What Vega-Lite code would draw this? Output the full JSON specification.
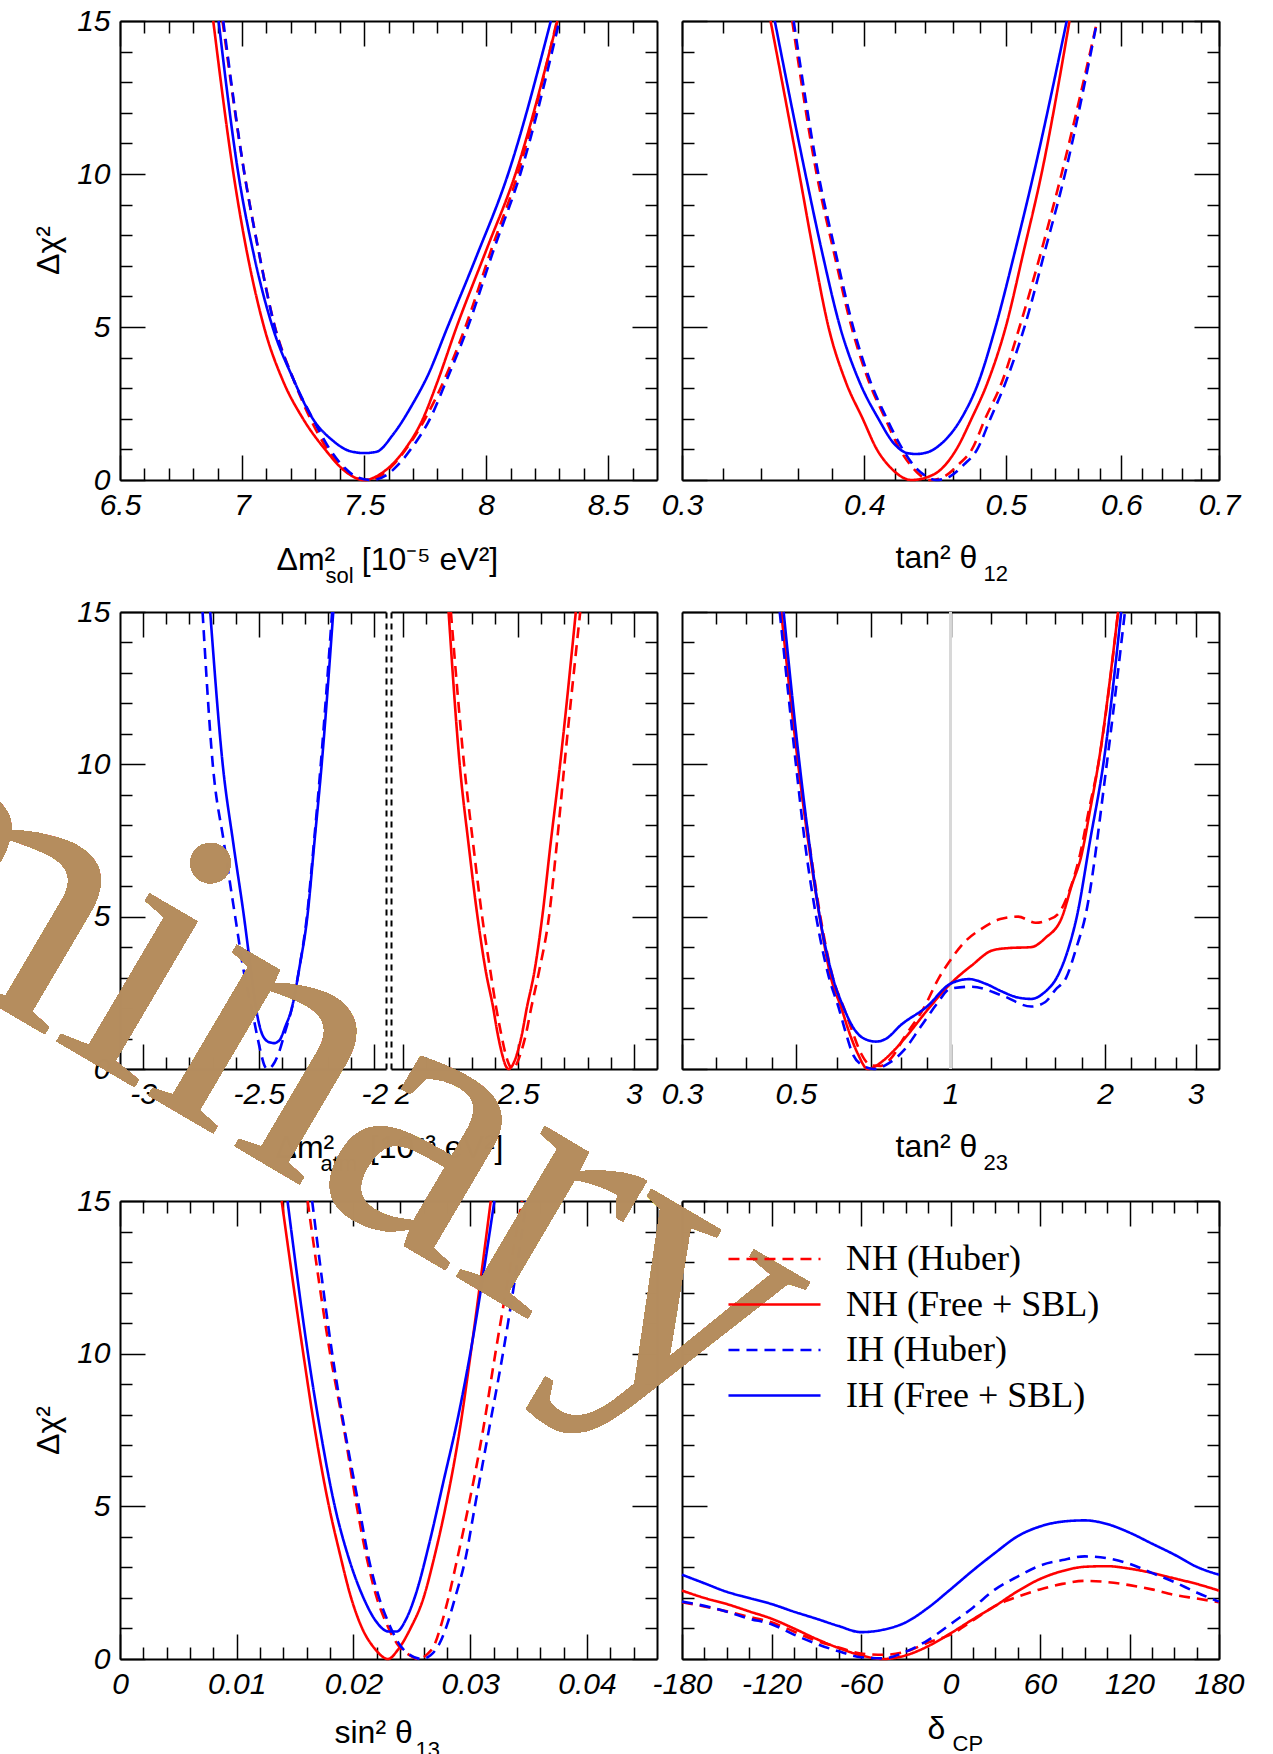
{
"$schema": "https://vega.github.io/schema/vega-lite/v6.json",
"background": "white",
"padding": {"left": -862, "top": 6, "right": 60, "bottom": 10},
"bounds": "flush",
"columns": 2,
"spacing": {"row": 132, "column": 25},
"resolve": {"scale": {"color": "independent", "strokeDash": "independent"}, "legend": {"color": "independent", "strokeDash": "independent"}},
"config": {
  "view": {"stroke": null},
  "axis": {"grid": false, "domainColor": "#000", "domainWidth": 2, "tickColor": "#000", "tickWidth": 1.5, "labelColor": "#000", "labelFont": "Liberation Sans", "labelFontSize": 30, "labelFontStyle": "italic", "labelFlush": false, "labelOverlap": false, "labelBound": false, "titleColor": "#000", "titleFont": "Liberation Sans", "titleFontSize": 32, "titleFontWeight": "normal", "titlePadding": 0},
  "line": {"strokeWidth": 2.6, "interpolate": "monotone"}
},
"datasets": {
"p1": [
{"s":"NH (Huber)","x":6.92,"c":15},{"s":"NH (Huber)","x":7.01,"c":10},{"s":"NH (Huber)","x":7.07,"c":7.4},{"s":"NH (Huber)","x":7.135,"c":5},{"s":"NH (Huber)","x":7.21,"c":3.3},{"s":"NH (Huber)","x":7.28,"c":2},{"s":"NH (Huber)","x":7.35,"c":1},{"s":"NH (Huber)","x":7.41,"c":0.4},{"s":"NH (Huber)","x":7.46,"c":0.1},{"s":"NH (Huber)","x":7.51,"c":0},{"s":"NH (Huber)","x":7.57,"c":0.15},{"s":"NH (Huber)","x":7.62,"c":0.5},{"s":"NH (Huber)","x":7.68,"c":1.1},{"s":"NH (Huber)","x":7.75,"c":2},{"s":"NH (Huber)","x":7.83,"c":3.3},{"s":"NH (Huber)","x":7.915,"c":5},{"s":"NH (Huber)","x":8.02,"c":7.5},{"s":"NH (Huber)","x":8.13,"c":10},{"s":"NH (Huber)","x":8.29,"c":15},
{"s":"NH (Free + SBL)","x":6.882,"c":15},{"s":"NH (Free + SBL)","x":6.965,"c":10},{"s":"NH (Free + SBL)","x":7.09,"c":5},{"s":"NH (Free + SBL)","x":7.17,"c":3.2},{"s":"NH (Free + SBL)","x":7.25,"c":2},{"s":"NH (Free + SBL)","x":7.34,"c":1},{"s":"NH (Free + SBL)","x":7.42,"c":0.3},{"s":"NH (Free + SBL)","x":7.5,"c":0},{"s":"NH (Free + SBL)","x":7.585,"c":0.3},{"s":"NH (Free + SBL)","x":7.667,"c":1},{"s":"NH (Free + SBL)","x":7.741,"c":2},{"s":"NH (Free + SBL)","x":7.8,"c":3.2},{"s":"NH (Free + SBL)","x":7.879,"c":5},{"s":"NH (Free + SBL)","x":8.0,"c":7.5},{"s":"NH (Free + SBL)","x":8.12,"c":10},{"s":"NH (Free + SBL)","x":8.292,"c":15},
{"s":"IH (Huber)","x":6.923,"c":15},{"s":"IH (Huber)","x":7.01,"c":10},{"s":"IH (Huber)","x":7.07,"c":7.4},{"s":"IH (Huber)","x":7.134,"c":5},{"s":"IH (Huber)","x":7.21,"c":3.3},{"s":"IH (Huber)","x":7.29,"c":2},{"s":"IH (Huber)","x":7.36,"c":1},{"s":"IH (Huber)","x":7.42,"c":0.4},{"s":"IH (Huber)","x":7.47,"c":0.1},{"s":"IH (Huber)","x":7.53,"c":0},{"s":"IH (Huber)","x":7.59,"c":0.15},{"s":"IH (Huber)","x":7.64,"c":0.5},{"s":"IH (Huber)","x":7.7,"c":1.1},{"s":"IH (Huber)","x":7.77,"c":2},{"s":"IH (Huber)","x":7.84,"c":3.3},{"s":"IH (Huber)","x":7.925,"c":5},{"s":"IH (Huber)","x":8.03,"c":7.5},{"s":"IH (Huber)","x":8.14,"c":10},{"s":"IH (Huber)","x":8.3,"c":15},
{"s":"IH (Free + SBL)","x":6.904,"c":15},{"s":"IH (Free + SBL)","x":6.985,"c":10},{"s":"IH (Free + SBL)","x":7.05,"c":7.3},{"s":"IH (Free + SBL)","x":7.125,"c":5},{"s":"IH (Free + SBL)","x":7.21,"c":3.3},{"s":"IH (Free + SBL)","x":7.29,"c":2},{"s":"IH (Free + SBL)","x":7.37,"c":1.3},{"s":"IH (Free + SBL)","x":7.44,"c":0.95},{"s":"IH (Free + SBL)","x":7.5,"c":0.88},{"s":"IH (Free + SBL)","x":7.55,"c":0.92},{"s":"IH (Free + SBL)","x":7.62,"c":1.5},{"s":"IH (Free + SBL)","x":7.7,"c":2.5},{"s":"IH (Free + SBL)","x":7.76,"c":3.4},{"s":"IH (Free + SBL)","x":7.842,"c":5},{"s":"IH (Free + SBL)","x":7.96,"c":7.3},{"s":"IH (Free + SBL)","x":8.09,"c":10},{"s":"IH (Free + SBL)","x":8.265,"c":15}
],
"p2": [
{"s":"NH (Huber)","x":0.357,"c":15},{"s":"NH (Huber)","x":0.371,"c":10},{"s":"NH (Huber)","x":0.381,"c":7.5},{"s":"NH (Huber)","x":0.392,"c":5},{"s":"NH (Huber)","x":0.403,"c":3.2},{"s":"NH (Huber)","x":0.4135,"c":2},{"s":"NH (Huber)","x":0.423,"c":1},{"s":"NH (Huber)","x":0.43,"c":0.5},{"s":"NH (Huber)","x":0.437,"c":0.15},{"s":"NH (Huber)","x":0.444,"c":0},{"s":"NH (Huber)","x":0.454,"c":0.12},{"s":"NH (Huber)","x":0.464,"c":0.5},{"s":"NH (Huber)","x":0.474,"c":1},{"s":"NH (Huber)","x":0.484,"c":2},{"s":"NH (Huber)","x":0.497,"c":3.2},{"s":"NH (Huber)","x":0.511,"c":5},{"s":"NH (Huber)","x":0.529,"c":7.5},{"s":"NH (Huber)","x":0.546,"c":10},{"s":"NH (Huber)","x":0.5776,"c":15},
{"s":"NH (Free + SBL)","x":0.345,"c":15},{"s":"NH (Free + SBL)","x":0.361,"c":10},{"s":"NH (Free + SBL)","x":0.369,"c":7.5},{"s":"NH (Free + SBL)","x":0.378,"c":5},{"s":"NH (Free + SBL)","x":0.3885,"c":3.2},{"s":"NH (Free + SBL)","x":0.399,"c":2},{"s":"NH (Free + SBL)","x":0.408,"c":1},{"s":"NH (Free + SBL)","x":0.417,"c":0.4},{"s":"NH (Free + SBL)","x":0.431,"c":0},{"s":"NH (Free + SBL)","x":0.447,"c":0.2},{"s":"NH (Free + SBL)","x":0.4625,"c":1},{"s":"NH (Free + SBL)","x":0.4737,"c":2},{"s":"NH (Free + SBL)","x":0.486,"c":3.2},{"s":"NH (Free + SBL)","x":0.5,"c":5},{"s":"NH (Free + SBL)","x":0.5145,"c":7.5},{"s":"NH (Free + SBL)","x":0.529,"c":10},{"s":"NH (Free + SBL)","x":0.5529,"c":15},
{"s":"IH (Huber)","x":0.3578,"c":15},{"s":"IH (Huber)","x":0.372,"c":10},{"s":"IH (Huber)","x":0.382,"c":7.5},{"s":"IH (Huber)","x":0.393,"c":5},{"s":"IH (Huber)","x":0.404,"c":3.2},{"s":"IH (Huber)","x":0.4145,"c":2},{"s":"IH (Huber)","x":0.425,"c":1},{"s":"IH (Huber)","x":0.432,"c":0.5},{"s":"IH (Huber)","x":0.44,"c":0.15},{"s":"IH (Huber)","x":0.448,"c":0},{"s":"IH (Huber)","x":0.458,"c":0.12},{"s":"IH (Huber)","x":0.468,"c":0.5},{"s":"IH (Huber)","x":0.478,"c":1},{"s":"IH (Huber)","x":0.488,"c":2},{"s":"IH (Huber)","x":0.5,"c":3.2},{"s":"IH (Huber)","x":0.515,"c":5},{"s":"IH (Huber)","x":0.532,"c":7.5},{"s":"IH (Huber)","x":0.549,"c":10},{"s":"IH (Huber)","x":0.5776,"c":15},
{"s":"IH (Free + SBL)","x":0.3473,"c":15},{"s":"IH (Free + SBL)","x":0.3645,"c":10},{"s":"IH (Free + SBL)","x":0.374,"c":7.5},{"s":"IH (Free + SBL)","x":0.385,"c":5},{"s":"IH (Free + SBL)","x":0.397,"c":3.2},{"s":"IH (Free + SBL)","x":0.409,"c":2},{"s":"IH (Free + SBL)","x":0.419,"c":1.2},{"s":"IH (Free + SBL)","x":0.428,"c":0.88},{"s":"IH (Free + SBL)","x":0.434,"c":0.85},{"s":"IH (Free + SBL)","x":0.44,"c":0.88},{"s":"IH (Free + SBL)","x":0.452,"c":1.2},{"s":"IH (Free + SBL)","x":0.466,"c":2},{"s":"IH (Free + SBL)","x":0.479,"c":3.2},{"s":"IH (Free + SBL)","x":0.492,"c":5},{"s":"IH (Free + SBL)","x":0.5075,"c":7.5},{"s":"IH (Free + SBL)","x":0.5225,"c":10},{"s":"IH (Free + SBL)","x":0.5505,"c":15}
],
"p3l": [
{"s":"IH (Huber)","x":-2.743,"c":15},{"s":"IH (Huber)","x":-2.699,"c":10},{"s":"IH (Huber)","x":-2.65,"c":7.4},{"s":"IH (Huber)","x":-2.602,"c":5},{"s":"IH (Huber)","x":-2.56,"c":3},{"s":"IH (Huber)","x":-2.531,"c":2},{"s":"IH (Huber)","x":-2.51,"c":1.2},{"s":"IH (Huber)","x":-2.49,"c":0.5},{"s":"IH (Huber)","x":-2.476,"c":0.12},{"s":"IH (Huber)","x":-2.463,"c":0},{"s":"IH (Huber)","x":-2.44,"c":0.12},{"s":"IH (Huber)","x":-2.415,"c":0.5},{"s":"IH (Huber)","x":-2.385,"c":1.25},{"s":"IH (Huber)","x":-2.357,"c":2},{"s":"IH (Huber)","x":-2.325,"c":3.3},{"s":"IH (Huber)","x":-2.292,"c":5},{"s":"IH (Huber)","x":-2.262,"c":7.4},{"s":"IH (Huber)","x":-2.232,"c":10},{"s":"IH (Huber)","x":-2.183,"c":15},
{"s":"IH (Free + SBL)","x":-2.71,"c":15},{"s":"IH (Free + SBL)","x":-2.656,"c":10},{"s":"IH (Free + SBL)","x":-2.61,"c":7.4},{"s":"IH (Free + SBL)","x":-2.564,"c":5},{"s":"IH (Free + SBL)","x":-2.53,"c":3},{"s":"IH (Free + SBL)","x":-2.512,"c":2},{"s":"IH (Free + SBL)","x":-2.483,"c":1.1},{"s":"IH (Free + SBL)","x":-2.455,"c":0.88},{"s":"IH (Free + SBL)","x":-2.434,"c":0.85},{"s":"IH (Free + SBL)","x":-2.41,"c":0.95},{"s":"IH (Free + SBL)","x":-2.385,"c":1.4},{"s":"IH (Free + SBL)","x":-2.357,"c":2},{"s":"IH (Free + SBL)","x":-2.325,"c":3.3},{"s":"IH (Free + SBL)","x":-2.29,"c":5},{"s":"IH (Free + SBL)","x":-2.26,"c":7.4},{"s":"IH (Free + SBL)","x":-2.228,"c":10},{"s":"IH (Free + SBL)","x":-2.178,"c":15}
],
"p3r": [
{"s":"NH (Huber)","x":2.209,"c":15},{"s":"NH (Huber)","x":2.266,"c":10},{"s":"NH (Huber)","x":2.305,"c":7.4},{"s":"NH (Huber)","x":2.344,"c":5},{"s":"NH (Huber)","x":2.38,"c":3.2},{"s":"NH (Huber)","x":2.405,"c":2},{"s":"NH (Huber)","x":2.425,"c":1.2},{"s":"NH (Huber)","x":2.445,"c":0.5},{"s":"NH (Huber)","x":2.462,"c":0.12},{"s":"NH (Huber)","x":2.476,"c":0},{"s":"NH (Huber)","x":2.49,"c":0.12},{"s":"NH (Huber)","x":2.51,"c":0.5},{"s":"NH (Huber)","x":2.532,"c":1.1},{"s":"NH (Huber)","x":2.556,"c":2},{"s":"NH (Huber)","x":2.59,"c":3.2},{"s":"NH (Huber)","x":2.633,"c":5},{"s":"NH (Huber)","x":2.667,"c":7.4},{"s":"NH (Huber)","x":2.7,"c":10},{"s":"NH (Huber)","x":2.768,"c":15},
{"s":"NH (Free + SBL)","x":2.199,"c":15},{"s":"NH (Free + SBL)","x":2.247,"c":10},{"s":"NH (Free + SBL)","x":2.285,"c":7.4},{"s":"NH (Free + SBL)","x":2.324,"c":5},{"s":"NH (Free + SBL)","x":2.36,"c":3.2},{"s":"NH (Free + SBL)","x":2.392,"c":2},{"s":"NH (Free + SBL)","x":2.41,"c":1.2},{"s":"NH (Free + SBL)","x":2.43,"c":0.5},{"s":"NH (Free + SBL)","x":2.445,"c":0.12},{"s":"NH (Free + SBL)","x":2.459,"c":0},{"s":"NH (Free + SBL)","x":2.475,"c":0.12},{"s":"NH (Free + SBL)","x":2.495,"c":0.5},{"s":"NH (Free + SBL)","x":2.515,"c":1.1},{"s":"NH (Free + SBL)","x":2.537,"c":2},{"s":"NH (Free + SBL)","x":2.57,"c":3.2},{"s":"NH (Free + SBL)","x":2.604,"c":5},{"s":"NH (Free + SBL)","x":2.64,"c":7.4},{"s":"NH (Free + SBL)","x":2.681,"c":10},{"s":"NH (Free + SBL)","x":2.749,"c":15}
],
"p4": [
{"s":"NH (Huber)","x":0.468,"c":15},{"s":"NH (Huber)","x":0.505,"c":10},{"s":"NH (Huber)","x":0.53,"c":7.5},{"s":"NH (Huber)","x":0.558,"c":5},{"s":"NH (Huber)","x":0.59,"c":3},{"s":"NH (Huber)","x":0.62,"c":2},{"s":"NH (Huber)","x":0.645,"c":1.2},{"s":"NH (Huber)","x":0.67,"c":0.5},{"s":"NH (Huber)","x":0.7,"c":0.12},{"s":"NH (Huber)","x":0.73,"c":0.1},{"s":"NH (Huber)","x":0.77,"c":0.4},{"s":"NH (Huber)","x":0.81,"c":1.0},{"s":"NH (Huber)","x":0.887,"c":2},{"s":"NH (Huber)","x":0.95,"c":3.0},{"s":"NH (Huber)","x":1.0,"c":3.58},{"s":"NH (Huber)","x":1.07,"c":4.2},{"s":"NH (Huber)","x":1.149,"c":4.6},{"s":"NH (Huber)","x":1.25,"c":4.92},{"s":"NH (Huber)","x":1.354,"c":5.0},{"s":"NH (Huber)","x":1.465,"c":4.8},{"s":"NH (Huber)","x":1.55,"c":4.9},{"s":"NH (Huber)","x":1.622,"c":5.1},{"s":"NH (Huber)","x":1.7,"c":5.8},{"s":"NH (Huber)","x":1.785,"c":7},{"s":"NH (Huber)","x":1.86,"c":8.5},{"s":"NH (Huber)","x":1.94,"c":10},{"s":"NH (Huber)","x":2.12,"c":15},
{"s":"NH (Free + SBL)","x":0.468,"c":15},{"s":"NH (Free + SBL)","x":0.505,"c":10},{"s":"NH (Free + SBL)","x":0.528,"c":7.5},{"s":"NH (Free + SBL)","x":0.556,"c":5},{"s":"NH (Free + SBL)","x":0.585,"c":3},{"s":"NH (Free + SBL)","x":0.613,"c":2},{"s":"NH (Free + SBL)","x":0.635,"c":1.2},{"s":"NH (Free + SBL)","x":0.66,"c":0.5},{"s":"NH (Free + SBL)","x":0.69,"c":0},{"s":"NH (Free + SBL)","x":0.73,"c":0.2},{"s":"NH (Free + SBL)","x":0.77,"c":0.55},{"s":"NH (Free + SBL)","x":0.814,"c":1},{"s":"NH (Free + SBL)","x":0.908,"c":2},{"s":"NH (Free + SBL)","x":1.0,"c":2.8},{"s":"NH (Free + SBL)","x":1.1,"c":3.4},{"s":"NH (Free + SBL)","x":1.21,"c":3.9},{"s":"NH (Free + SBL)","x":1.3,"c":3.97},{"s":"NH (Free + SBL)","x":1.436,"c":4.0},{"s":"NH (Free + SBL)","x":1.53,"c":4.3},{"s":"NH (Free + SBL)","x":1.65,"c":5},{"s":"NH (Free + SBL)","x":1.72,"c":6},{"s":"NH (Free + SBL)","x":1.798,"c":7},{"s":"NH (Free + SBL)","x":1.87,"c":8.5},{"s":"NH (Free + SBL)","x":1.94,"c":10},{"s":"NH (Free + SBL)","x":2.12,"c":15},
{"s":"IH (Huber)","x":0.465,"c":15},{"s":"IH (Huber)","x":0.5,"c":10},{"s":"IH (Huber)","x":0.52,"c":7.5},{"s":"IH (Huber)","x":0.5475,"c":5},{"s":"IH (Huber)","x":0.58,"c":3},{"s":"IH (Huber)","x":0.606,"c":2},{"s":"IH (Huber)","x":0.625,"c":1.2},{"s":"IH (Huber)","x":0.6447,"c":0.5},{"s":"IH (Huber)","x":0.67,"c":0.15},{"s":"IH (Huber)","x":0.71,"c":0},{"s":"IH (Huber)","x":0.76,"c":0.2},{"s":"IH (Huber)","x":0.81,"c":0.6},{"s":"IH (Huber)","x":0.876,"c":1.4},{"s":"IH (Huber)","x":0.942,"c":2.15},{"s":"IH (Huber)","x":1.0,"c":2.64},{"s":"IH (Huber)","x":1.1,"c":2.7},{"s":"IH (Huber)","x":1.257,"c":2.42},{"s":"IH (Huber)","x":1.436,"c":2.05},{"s":"IH (Huber)","x":1.53,"c":2.2},{"s":"IH (Huber)","x":1.6,"c":2.6},{"s":"IH (Huber)","x":1.68,"c":3.0},{"s":"IH (Huber)","x":1.76,"c":4},{"s":"IH (Huber)","x":1.83,"c":5},{"s":"IH (Huber)","x":2.015,"c":10},{"s":"IH (Huber)","x":2.186,"c":15},
{"s":"IH (Free + SBL)","x":0.4732,"c":15},{"s":"IH (Free + SBL)","x":0.5083,"c":10},{"s":"IH (Free + SBL)","x":0.53,"c":7.5},{"s":"IH (Free + SBL)","x":0.5564,"c":5},{"s":"IH (Free + SBL)","x":0.59,"c":3},{"s":"IH (Free + SBL)","x":0.6198,"c":2},{"s":"IH (Free + SBL)","x":0.65,"c":1.3},{"s":"IH (Free + SBL)","x":0.6782,"c":1.0},{"s":"IH (Free + SBL)","x":0.7165,"c":0.9},{"s":"IH (Free + SBL)","x":0.75,"c":1.0},{"s":"IH (Free + SBL)","x":0.8,"c":1.44},{"s":"IH (Free + SBL)","x":0.9,"c":2.05},{"s":"IH (Free + SBL)","x":1.0,"c":2.8},{"s":"IH (Free + SBL)","x":1.087,"c":2.95},{"s":"IH (Free + SBL)","x":1.17,"c":2.8},{"s":"IH (Free + SBL)","x":1.257,"c":2.55},{"s":"IH (Free + SBL)","x":1.35,"c":2.35},{"s":"IH (Free + SBL)","x":1.436,"c":2.3},{"s":"IH (Free + SBL)","x":1.52,"c":2.5},{"s":"IH (Free + SBL)","x":1.622,"c":3.1},{"s":"IH (Free + SBL)","x":1.7,"c":4.0},{"s":"IH (Free + SBL)","x":1.762,"c":5},{"s":"IH (Free + SBL)","x":1.87,"c":7.5},{"s":"IH (Free + SBL)","x":1.984,"c":10},{"s":"IH (Free + SBL)","x":2.15,"c":15}
],
"p5": [
{"s":"NH (Huber)","x":0.01607,"c":15},{"s":"NH (Huber)","x":0.018,"c":10},{"s":"NH (Huber)","x":0.0192,"c":7.5},{"s":"NH (Huber)","x":0.02028,"c":5},{"s":"NH (Huber)","x":0.0212,"c":3.2},{"s":"NH (Huber)","x":0.022,"c":2},{"s":"NH (Huber)","x":0.0229,"c":1.1},{"s":"NH (Huber)","x":0.02373,"c":0.5},{"s":"NH (Huber)","x":0.0247,"c":0.15},{"s":"NH (Huber)","x":0.0256,"c":0},{"s":"NH (Huber)","x":0.0263,"c":0.15},{"s":"NH (Huber)","x":0.02698,"c":0.5},{"s":"NH (Huber)","x":0.0275,"c":1.1},{"s":"NH (Huber)","x":0.02813,"c":2},{"s":"NH (Huber)","x":0.0289,"c":3.3},{"s":"NH (Huber)","x":0.02985,"c":5},{"s":"NH (Huber)","x":0.0311,"c":7.5},{"s":"NH (Huber)","x":0.03215,"c":10},{"s":"NH (Huber)","x":0.03444,"c":15},
{"s":"NH (Free + SBL)","x":0.01385,"c":15},{"s":"NH (Free + SBL)","x":0.0157,"c":10},{"s":"NH (Free + SBL)","x":0.0167,"c":7.5},{"s":"NH (Free + SBL)","x":0.0179,"c":5},{"s":"NH (Free + SBL)","x":0.0188,"c":3.5},{"s":"NH (Free + SBL)","x":0.0198,"c":2},{"s":"NH (Free + SBL)","x":0.02075,"c":1},{"s":"NH (Free + SBL)","x":0.0218,"c":0.35},{"s":"NH (Free + SBL)","x":0.02296,"c":0},{"s":"NH (Free + SBL)","x":0.0238,"c":0.3},{"s":"NH (Free + SBL)","x":0.02488,"c":1},{"s":"NH (Free + SBL)","x":0.026,"c":2},{"s":"NH (Free + SBL)","x":0.0269,"c":3.3},{"s":"NH (Free + SBL)","x":0.0279,"c":5},{"s":"NH (Free + SBL)","x":0.0291,"c":7.5},{"s":"NH (Free + SBL)","x":0.03004,"c":10},{"s":"NH (Free + SBL)","x":0.03176,"c":15},
{"s":"IH (Huber)","x":0.01646,"c":15},{"s":"IH (Huber)","x":0.01818,"c":10},{"s":"IH (Huber)","x":0.01925,"c":7.5},{"s":"IH (Huber)","x":0.02047,"c":5},{"s":"IH (Huber)","x":0.0213,"c":3.3},{"s":"IH (Huber)","x":0.0222,"c":2},{"s":"IH (Huber)","x":0.0231,"c":1.1},{"s":"IH (Huber)","x":0.0239,"c":0.5},{"s":"IH (Huber)","x":0.0249,"c":0.12},{"s":"IH (Huber)","x":0.02583,"c":0},{"s":"IH (Huber)","x":0.0266,"c":0.12},{"s":"IH (Huber)","x":0.02736,"c":0.5},{"s":"IH (Huber)","x":0.028,"c":1.1},{"s":"IH (Huber)","x":0.0287,"c":2},{"s":"IH (Huber)","x":0.0296,"c":3.3},{"s":"IH (Huber)","x":0.0304,"c":5},{"s":"IH (Huber)","x":0.0316,"c":7.5},{"s":"IH (Huber)","x":0.0328,"c":10},{"s":"IH (Huber)","x":0.03483,"c":15},
{"s":"IH (Free + SBL)","x":0.01435,"c":15},{"s":"IH (Free + SBL)","x":0.0161,"c":10},{"s":"IH (Free + SBL)","x":0.01715,"c":7.5},{"s":"IH (Free + SBL)","x":0.0184,"c":5},{"s":"IH (Free + SBL)","x":0.0196,"c":3.3},{"s":"IH (Free + SBL)","x":0.02086,"c":2},{"s":"IH (Free + SBL)","x":0.022,"c":1.2},{"s":"IH (Free + SBL)","x":0.023,"c":0.9},{"s":"IH (Free + SBL)","x":0.0237,"c":0.9},{"s":"IH (Free + SBL)","x":0.0245,"c":1.3},{"s":"IH (Free + SBL)","x":0.0254,"c":2.2},{"s":"IH (Free + SBL)","x":0.0265,"c":3.8},{"s":"IH (Free + SBL)","x":0.0277,"c":5.8},{"s":"IH (Free + SBL)","x":0.029,"c":8},{"s":"IH (Free + SBL)","x":0.03,"c":10},{"s":"IH (Free + SBL)","x":0.03207,"c":15}
],
"p6": [
{"s":"NH (Huber)","x":-180,"c":1.86},{"s":"NH (Huber)","x":-165,"c":1.72},{"s":"NH (Huber)","x":-150,"c":1.56},{"s":"NH (Huber)","x":-135,"c":1.38},{"s":"NH (Huber)","x":-120,"c":1.2},{"s":"NH (Huber)","x":-105,"c":0.9},{"s":"NH (Huber)","x":-90,"c":0.6},{"s":"NH (Huber)","x":-75,"c":0.38},{"s":"NH (Huber)","x":-60,"c":0.18},{"s":"NH (Huber)","x":-45,"c":0.14},{"s":"NH (Huber)","x":-30,"c":0.24},{"s":"NH (Huber)","x":-15,"c":0.54},{"s":"NH (Huber)","x":0,"c":0.8},{"s":"NH (Huber)","x":15,"c":1.26},{"s":"NH (Huber)","x":30,"c":1.74},{"s":"NH (Huber)","x":45,"c":2.04},{"s":"NH (Huber)","x":60,"c":2.28},{"s":"NH (Huber)","x":75,"c":2.46},{"s":"NH (Huber)","x":90,"c":2.56},{"s":"NH (Huber)","x":105,"c":2.52},{"s":"NH (Huber)","x":120,"c":2.42},{"s":"NH (Huber)","x":135,"c":2.28},{"s":"NH (Huber)","x":150,"c":2.1},{"s":"NH (Huber)","x":165,"c":1.98},{"s":"NH (Huber)","x":180,"c":1.86},
{"s":"NH (Free + SBL)","x":-180,"c":2.24},{"s":"NH (Free + SBL)","x":-165,"c":2.0},{"s":"NH (Free + SBL)","x":-150,"c":1.8},{"s":"NH (Free + SBL)","x":-135,"c":1.56},{"s":"NH (Free + SBL)","x":-120,"c":1.32},{"s":"NH (Free + SBL)","x":-105,"c":1.0},{"s":"NH (Free + SBL)","x":-90,"c":0.66},{"s":"NH (Free + SBL)","x":-75,"c":0.36},{"s":"NH (Free + SBL)","x":-60,"c":0.12},{"s":"NH (Free + SBL)","x":-45,"c":0.0},{"s":"NH (Free + SBL)","x":-30,"c":0.12},{"s":"NH (Free + SBL)","x":-15,"c":0.42},{"s":"NH (Free + SBL)","x":0,"c":0.84},{"s":"NH (Free + SBL)","x":15,"c":1.3},{"s":"NH (Free + SBL)","x":30,"c":1.74},{"s":"NH (Free + SBL)","x":45,"c":2.22},{"s":"NH (Free + SBL)","x":60,"c":2.62},{"s":"NH (Free + SBL)","x":75,"c":2.88},{"s":"NH (Free + SBL)","x":90,"c":3.02},{"s":"NH (Free + SBL)","x":105,"c":3.04},{"s":"NH (Free + SBL)","x":120,"c":2.96},{"s":"NH (Free + SBL)","x":135,"c":2.82},{"s":"NH (Free + SBL)","x":150,"c":2.64},{"s":"NH (Free + SBL)","x":165,"c":2.46},{"s":"NH (Free + SBL)","x":180,"c":2.24},
{"s":"IH (Huber)","x":-180,"c":1.88},{"s":"IH (Huber)","x":-165,"c":1.74},{"s":"IH (Huber)","x":-150,"c":1.55},{"s":"IH (Huber)","x":-135,"c":1.32},{"s":"IH (Huber)","x":-120,"c":1.14},{"s":"IH (Huber)","x":-105,"c":0.8},{"s":"IH (Huber)","x":-90,"c":0.5},{"s":"IH (Huber)","x":-75,"c":0.25},{"s":"IH (Huber)","x":-60,"c":0.06},{"s":"IH (Huber)","x":-45,"c":0.02},{"s":"IH (Huber)","x":-30,"c":0.24},{"s":"IH (Huber)","x":-15,"c":0.62},{"s":"IH (Huber)","x":0,"c":1.14},{"s":"IH (Huber)","x":15,"c":1.68},{"s":"IH (Huber)","x":30,"c":2.28},{"s":"IH (Huber)","x":45,"c":2.7},{"s":"IH (Huber)","x":60,"c":3.06},{"s":"IH (Huber)","x":75,"c":3.24},{"s":"IH (Huber)","x":90,"c":3.36},{"s":"IH (Huber)","x":105,"c":3.3},{"s":"IH (Huber)","x":120,"c":3.12},{"s":"IH (Huber)","x":135,"c":2.82},{"s":"IH (Huber)","x":150,"c":2.52},{"s":"IH (Huber)","x":165,"c":2.18},{"s":"IH (Huber)","x":180,"c":1.88},
{"s":"IH (Free + SBL)","x":-180,"c":2.76},{"s":"IH (Free + SBL)","x":-165,"c":2.48},{"s":"IH (Free + SBL)","x":-150,"c":2.2},{"s":"IH (Free + SBL)","x":-135,"c":2.0},{"s":"IH (Free + SBL)","x":-120,"c":1.8},{"s":"IH (Free + SBL)","x":-105,"c":1.55},{"s":"IH (Free + SBL)","x":-90,"c":1.32},{"s":"IH (Free + SBL)","x":-75,"c":1.08},{"s":"IH (Free + SBL)","x":-60,"c":0.88},{"s":"IH (Free + SBL)","x":-45,"c":0.96},{"s":"IH (Free + SBL)","x":-30,"c":1.2},{"s":"IH (Free + SBL)","x":-15,"c":1.68},{"s":"IH (Free + SBL)","x":0,"c":2.28},{"s":"IH (Free + SBL)","x":15,"c":2.9},{"s":"IH (Free + SBL)","x":30,"c":3.48},{"s":"IH (Free + SBL)","x":45,"c":4.02},{"s":"IH (Free + SBL)","x":60,"c":4.34},{"s":"IH (Free + SBL)","x":75,"c":4.5},{"s":"IH (Free + SBL)","x":90,"c":4.54},{"s":"IH (Free + SBL)","x":105,"c":4.42},{"s":"IH (Free + SBL)","x":120,"c":4.14},{"s":"IH (Free + SBL)","x":135,"c":3.78},{"s":"IH (Free + SBL)","x":150,"c":3.42},{"s":"IH (Free + SBL)","x":165,"c":3.02},{"s":"IH (Free + SBL)","x":180,"c":2.76}
]
},
"concat": [
{
 "width": 537, "height": 459, "data": {"name": "p1"},
 "resolve": {"axis": {"x": "independent", "y": "independent"}},
 "layer": [
  {"mark": {"type": "line"},
   "encoding": {
    "x": {"field": "x", "type": "quantitative", "scale": {"domain": [6.5, 8.7], "nice": false, "zero": false},
      "axis": {"orient": "bottom", "values": [6.5,7,7.5,8,8.5], "tickSize": -25, "labelPadding": 35, "labelExpr": "'' + datum.value", "title": "Δm²\u00a0\u00a0\u00a0[10⁻⁵ eV²]", "titleX": 156, "titleY": 89, "titleAlign": "left", "titleBaseline": "alphabetic", "titleAngle": 0}},
    "y": {"field": "c", "type": "quantitative", "scale": {"domain": [0, 15], "nice": false, "zero": false},
      "axis": {"orient": "left", "values": [0,5,10,15], "tickSize": -25, "labelPadding": 35, "labelExpr": "'' + datum.value", "title": "Δχ²", "titleX": -62, "titleY": 229, "titleAlign": "center", "titleBaseline": "alphabetic", "titleAngle": -90}},
    "color": {"field": "s", "type": "nominal", "scale": {"domain": ["NH (Huber)","NH (Free + SBL)","IH (Huber)","IH (Free + SBL)"], "range": ["#ff0000","#ff0000","#0000ff","#0000ff"]}, "legend": null},
    "strokeDash": {"field": "s", "type": "nominal", "scale": {"domain": ["NH (Huber)","NH (Free + SBL)","IH (Huber)","IH (Free + SBL)"], "range": [[11,7],[1,0],[11,7],[1,0]]}, "legend": null}
   }},
  {"mark": {"type": "point", "opacity": 0},
   "encoding": {
    "x": {"field": "x", "type": "quantitative", "axis": {"orient": "bottom", "values": [6.6,6.7,6.8,6.9,7.1,7.2,7.3,7.4,7.6,7.7,7.8,7.9,8.1,8.2,8.3,8.4,8.6], "tickSize": -12, "labels": false, "domain": false, "title": "sol", "titleX": 205, "titleY": 102, "titleAlign": "left", "titleBaseline": "alphabetic", "titleAngle": 0, "titleFontSize": 22}},
    "y": {"field": "c", "type": "quantitative", "axis": {"orient": "left", "values": [1,2,3,4,6,7,8,9,11,12,13,14], "tickSize": -12, "labels": false, "domain": false, "title": null}}
   }},
  {"mark": {"type": "point", "opacity": 0},
   "encoding": {
    "x": {"field": "x", "type": "quantitative", "axis": {"orient": "top", "values": [6.5,7,7.5,8,8.5], "tickSize": -25, "labels": false, "title": null}},
    "y": {"field": "c", "type": "quantitative", "axis": {"orient": "right", "values": [0,5,10,15], "tickSize": -25, "labels": false, "title": null}}
   }},
  {"mark": {"type": "point", "opacity": 0},
   "encoding": {
    "x": {"field": "x", "type": "quantitative", "axis": {"orient": "top", "values": [6.6,6.7,6.8,6.9,7.1,7.2,7.3,7.4,7.6,7.7,7.8,7.9,8.1,8.2,8.3,8.4,8.6], "tickSize": -12, "labels": false, "domain": false, "title": null}},
    "y": {"field": "c", "type": "quantitative", "axis": {"orient": "right", "values": [1,2,3,4,6,7,8,9,11,12,13,14], "tickSize": -12, "labels": false, "domain": false, "title": null}}
   }}
 ]
},
{
 "width": 537, "height": 459, "data": {"name": "p2"},
 "resolve": {"axis": {"x": "independent", "y": "independent"}},
 "layer": [
  {"mark": {"type": "line"},
   "encoding": {
    "x": {"field": "x", "type": "quantitative", "scale": {"type": "log", "domain": [0.3, 0.7], "nice": false},
      "axis": {"orient": "bottom", "values": [0.3,0.4,0.5,0.6,0.7], "tickSize": -25, "labelPadding": 35, "labelExpr": "'' + datum.value", "title": "tan²\u00a0θ", "titleX": 213, "titleY": 87, "titleAlign": "left", "titleBaseline": "alphabetic", "titleAngle": 0}},
    "y": {"field": "c", "type": "quantitative", "scale": {"domain": [0, 15], "nice": false, "zero": false},
      "axis": {"orient": "left", "values": [0,5,10,15], "tickSize": -25, "labels": false, "title": null}},
    "color": {"field": "s", "type": "nominal", "scale": {"domain": ["NH (Huber)","NH (Free + SBL)","IH (Huber)","IH (Free + SBL)"], "range": ["#ff0000","#ff0000","#0000ff","#0000ff"]}, "legend": null},
    "strokeDash": {"field": "s", "type": "nominal", "scale": {"domain": ["NH (Huber)","NH (Free + SBL)","IH (Huber)","IH (Free + SBL)"], "range": [[11,7],[1,0],[11,7],[1,0]]}, "legend": null}
   }},
  {"mark": {"type": "point", "opacity": 0},
   "encoding": {
    "x": {"field": "x", "type": "quantitative", "axis": {"orient": "bottom", "values": [0.32,0.34,0.36,0.38,0.42,0.44,0.46,0.48,0.52,0.54,0.56,0.58,0.62,0.64,0.66,0.68], "tickSize": -12, "labels": false, "domain": false, "title": "12", "titleX": 301, "titleY": 100, "titleAlign": "left", "titleBaseline": "alphabetic", "titleAngle": 0, "titleFontSize": 22}},
    "y": {"field": "c", "type": "quantitative", "axis": {"orient": "left", "values": [1,2,3,4,6,7,8,9,11,12,13,14], "tickSize": -12, "labels": false, "domain": false, "title": null}}
   }},
  {"mark": {"type": "point", "opacity": 0},
   "encoding": {
    "x": {"field": "x", "type": "quantitative", "axis": {"orient": "top", "values": [0.3,0.4,0.5,0.6,0.7], "tickSize": -25, "labels": false, "title": null}},
    "y": {"field": "c", "type": "quantitative", "axis": {"orient": "right", "values": [0,5,10,15], "tickSize": -25, "labels": false, "title": null}}
   }},
  {"mark": {"type": "point", "opacity": 0},
   "encoding": {
    "x": {"field": "x", "type": "quantitative", "axis": {"orient": "top", "values": [0.32,0.34,0.36,0.38,0.42,0.44,0.46,0.48,0.52,0.54,0.56,0.58,0.62,0.64,0.66,0.68], "tickSize": -12, "labels": false, "domain": false, "title": null}},
    "y": {"field": "c", "type": "quantitative", "axis": {"orient": "right", "values": [1,2,3,4,6,7,8,9,11,12,13,14], "tickSize": -12, "labels": false, "domain": false, "title": null}}
   }}
 ]
},
{
 "spacing": 5, "bounds": "flush",
 "hconcat": [
  {
   "width": 266, "height": 457, "data": {"name": "p3l"},
   "resolve": {"axis": {"x": "independent", "y": "independent"}},
   "layer": [
    {"mark": {"type": "line"},
     "encoding": {
      "x": {"field": "x", "type": "quantitative", "scale": {"domain": [-3.1, -1.95], "nice": false, "zero": false},
        "axis": {"orient": "bottom", "values": [-3,-2.5,-2], "tickSize": -25, "labelPadding": 35, "labelExpr": "'' + datum.value", "title": "Δm²\u00a0\u00a0\u00a0\u00a0[10⁻³ eV²]", "titleX": 155, "titleY": 88, "titleAlign": "left", "titleBaseline": "alphabetic", "titleAngle": 0}},
      "y": {"field": "c", "type": "quantitative", "scale": {"domain": [0, 15], "nice": false, "zero": false},
        "axis": {"orient": "left", "values": [0,5,10,15], "tickSize": -25, "labelPadding": 35, "labelExpr": "'' + datum.value", "title": null}},
      "color": {"field": "s", "type": "nominal", "scale": {"domain": ["NH (Huber)","NH (Free + SBL)","IH (Huber)","IH (Free + SBL)"], "range": ["#ff0000","#ff0000","#0000ff","#0000ff"]}, "legend": null},
      "strokeDash": {"field": "s", "type": "nominal", "scale": {"domain": ["NH (Huber)","NH (Free + SBL)","IH (Huber)","IH (Free + SBL)"], "range": [[11,7],[1,0],[11,7],[1,0]]}, "legend": null}
     }},
    {"mark": {"type": "point", "opacity": 0},
     "encoding": {
      "x": {"field": "x", "type": "quantitative", "axis": {"orient": "bottom", "values": [-2.9,-2.8,-2.7,-2.6,-2.4,-2.3,-2.2,-2.1], "tickSize": -12, "labels": false, "domain": false, "title": "atm", "titleX": 200, "titleY": 101, "titleAlign": "left", "titleBaseline": "alphabetic", "titleAngle": 0, "titleFontSize": 22}},
      "y": {"field": "c", "type": "quantitative", "axis": {"orient": "left", "values": [1,2,3,4,6,7,8,9,11,12,13,14], "tickSize": -12, "labels": false, "domain": false, "title": null}}
     }},
    {"mark": {"type": "point", "opacity": 0},
     "encoding": {
      "x": {"field": "x", "type": "quantitative", "axis": {"orient": "top", "values": [-3,-2.5,-2], "tickSize": -25, "labels": false, "title": null}},
      "y": {"field": "c", "type": "quantitative", "axis": {"orient": "right", "ticks": false, "labels": false, "domainDash": [6,5], "title": null}}
     }},
    {"mark": {"type": "point", "opacity": 0},
     "encoding": {
      "x": {"field": "x", "type": "quantitative", "axis": {"orient": "top", "values": [-2.9,-2.8,-2.7,-2.6,-2.4,-2.3,-2.2,-2.1], "tickSize": -12, "labels": false, "domain": false, "title": null}},
      "y": {"field": "c", "type": "quantitative", "axis": null}
     }}
   ]
  },
  {
   "width": 266, "height": 457, "data": {"name": "p3r"},
   "resolve": {"axis": {"x": "independent", "y": "independent"}},
   "layer": [
    {"mark": {"type": "line"},
     "encoding": {
      "x": {"field": "x", "type": "quantitative", "scale": {"domain": [1.95, 3.1], "nice": false, "zero": false},
        "axis": {"orient": "bottom", "values": [2,2.5,3], "tickSize": -25, "labelPadding": 35, "labelExpr": "'' + datum.value", "title": null}},
      "y": {"field": "c", "type": "quantitative", "scale": {"domain": [0, 15], "nice": false, "zero": false},
        "axis": {"orient": "left", "ticks": false, "labels": false, "domainDash": [6,5], "title": null}},
      "color": {"field": "s", "type": "nominal", "scale": {"domain": ["NH (Huber)","NH (Free + SBL)","IH (Huber)","IH (Free + SBL)"], "range": ["#ff0000","#ff0000","#0000ff","#0000ff"]}, "legend": null},
      "strokeDash": {"field": "s", "type": "nominal", "scale": {"domain": ["NH (Huber)","NH (Free + SBL)","IH (Huber)","IH (Free + SBL)"], "range": [[11,7],[1,0],[11,7],[1,0]]}, "legend": null}
     }},
    {"mark": {"type": "point", "opacity": 0},
     "encoding": {
      "x": {"field": "x", "type": "quantitative", "axis": {"orient": "bottom", "values": [2.1,2.2,2.3,2.4,2.6,2.7,2.8,2.9], "tickSize": -12, "labels": false, "domain": false, "title": null}},
      "y": {"field": "c", "type": "quantitative", "axis": null}
     }},
    {"mark": {"type": "point", "opacity": 0},
     "encoding": {
      "x": {"field": "x", "type": "quantitative", "axis": {"orient": "top", "values": [2,2.5,3], "tickSize": -25, "labels": false, "title": null}},
      "y": {"field": "c", "type": "quantitative", "axis": {"orient": "right", "values": [0,5,10,15], "tickSize": -25, "labels": false, "title": null}}
     }},
    {"mark": {"type": "point", "opacity": 0},
     "encoding": {
      "x": {"field": "x", "type": "quantitative", "axis": {"orient": "top", "values": [2.1,2.2,2.3,2.4,2.6,2.7,2.8,2.9], "tickSize": -12, "labels": false, "domain": false, "title": null}},
      "y": {"field": "c", "type": "quantitative", "axis": {"orient": "right", "values": [1,2,3,4,6,7,8,9,11,12,13,14], "tickSize": -12, "labels": false, "domain": false, "title": null}}
     }}
   ]
  }
 ]
},
{
 "width": 537, "height": 457, "data": {"name": "p4"},
 "resolve": {"axis": {"x": "independent", "y": "independent"}},
 "layer": [
  {"mark": {"type": "rule", "color": "#d8d8d8", "strokeWidth": 1.5},
   "encoding": {"x": {"datum": 1, "type": "quantitative", "axis": null}}},
  {"mark": {"type": "line"},
   "encoding": {
    "x": {"field": "x", "type": "quantitative", "scale": {"type": "log", "domain": [0.3, 3.3333], "nice": false},
      "axis": {"orient": "bottom", "values": [0.3,0.5,0.7,1,2,3], "tickSize": -25, "labelPadding": 35, "labelExpr": "datum.value == 0.7 ? '' : '' + datum.value", "title": "tan²\u00a0θ", "titleX": 213, "titleY": 87, "titleAlign": "left", "titleBaseline": "alphabetic", "titleAngle": 0}},
    "y": {"field": "c", "type": "quantitative", "scale": {"domain": [0, 15], "nice": false, "zero": false},
      "axis": {"orient": "left", "values": [0,5,10,15], "tickSize": -25, "labels": false, "title": null}},
    "color": {"field": "s", "type": "nominal", "scale": {"domain": ["NH (Huber)","NH (Free + SBL)","IH (Huber)","IH (Free + SBL)"], "range": ["#ff0000","#ff0000","#0000ff","#0000ff"]}, "legend": null},
    "strokeDash": {"field": "s", "type": "nominal", "scale": {"domain": ["NH (Huber)","NH (Free + SBL)","IH (Huber)","IH (Free + SBL)"], "range": [[11,7],[1,0],[11,7],[1,0]]}, "legend": null}
   }},
  {"mark": {"type": "point", "opacity": 0},
   "encoding": {
    "x": {"field": "x", "type": "quantitative", "axis": {"orient": "bottom", "values": [0.35,0.4,0.45,0.6,0.8,0.9,1.2,1.4,1.6,1.8,2.25,2.5,2.75], "tickSize": -12, "labels": false, "domain": false, "title": "23", "titleX": 301, "titleY": 100, "titleAlign": "left", "titleBaseline": "alphabetic", "titleAngle": 0, "titleFontSize": 22}},
    "y": {"field": "c", "type": "quantitative", "axis": {"orient": "left", "values": [1,2,3,4,6,7,8,9,11,12,13,14], "tickSize": -12, "labels": false, "domain": false, "title": null}}
   }},
  {"mark": {"type": "point", "opacity": 0},
   "encoding": {
    "x": {"field": "x", "type": "quantitative", "axis": {"orient": "top", "values": [0.5,0.7,1,2,3], "tickSize": -25, "labels": false, "title": null}},
    "y": {"field": "c", "type": "quantitative", "axis": {"orient": "right", "values": [0,5,10,15], "tickSize": -25, "labels": false, "title": null}}
   }},
  {"mark": {"type": "point", "opacity": 0},
   "encoding": {
    "x": {"field": "x", "type": "quantitative", "axis": {"orient": "top", "values": [0.35,0.4,0.45,0.6,0.8,0.9,1.2,1.4,1.6,1.8,2.25,2.5,2.75], "tickSize": -12, "labels": false, "domain": false, "title": null}},
    "y": {"field": "c", "type": "quantitative", "axis": {"orient": "right", "values": [1,2,3,4,6,7,8,9,11,12,13,14], "tickSize": -12, "labels": false, "domain": false, "title": null}}
   }}
 ]
},
{
 "width": 537, "height": 458, "data": {"name": "p5"},
 "resolve": {"axis": {"x": "independent", "y": "independent"}},
 "layer": [
  {"mark": {"type": "line"},
   "encoding": {
    "x": {"field": "x", "type": "quantitative", "scale": {"domain": [0, 0.046], "nice": false, "zero": false},
      "axis": {"orient": "bottom", "values": [0,0.01,0.02,0.03,0.04], "tickSize": -25, "labelPadding": 35, "labelExpr": "'' + datum.value", "title": "sin²\u00a0θ", "titleX": 214, "titleY": 83, "titleAlign": "left", "titleBaseline": "alphabetic", "titleAngle": 0}},
    "y": {"field": "c", "type": "quantitative", "scale": {"domain": [0, 15], "nice": false, "zero": false},
      "axis": {"orient": "left", "values": [0,5,10,15], "tickSize": -25, "labelPadding": 35, "labelExpr": "'' + datum.value", "title": "Δχ²", "titleX": -62, "titleY": 229, "titleAlign": "center", "titleBaseline": "alphabetic", "titleAngle": -90}},
    "color": {"field": "s", "type": "nominal", "scale": {"domain": ["NH (Huber)","NH (Free + SBL)","IH (Huber)","IH (Free + SBL)"], "range": ["#ff0000","#ff0000","#0000ff","#0000ff"]}, "legend": null},
    "strokeDash": {"field": "s", "type": "nominal", "scale": {"domain": ["NH (Huber)","NH (Free + SBL)","IH (Huber)","IH (Free + SBL)"], "range": [[11,7],[1,0],[11,7],[1,0]]}, "legend": null}
   }},
  {"mark": {"type": "point", "opacity": 0},
   "encoding": {
    "x": {"field": "x", "type": "quantitative", "axis": {"orient": "bottom", "values": [0.002,0.004,0.006,0.008,0.012,0.014,0.016,0.018,0.022,0.024,0.026,0.028,0.032,0.034,0.036,0.038,0.042,0.044], "tickSize": -12, "labels": false, "domain": false, "title": "13", "titleX": 295, "titleY": 97, "titleAlign": "left", "titleBaseline": "alphabetic", "titleAngle": 0, "titleFontSize": 22}},
    "y": {"field": "c", "type": "quantitative", "axis": {"orient": "left", "values": [1,2,3,4,6,7,8,9,11,12,13,14], "tickSize": -12, "labels": false, "domain": false, "title": null}}
   }},
  {"mark": {"type": "point", "opacity": 0},
   "encoding": {
    "x": {"field": "x", "type": "quantitative", "axis": {"orient": "top", "values": [0,0.01,0.02,0.03,0.04], "tickSize": -25, "labels": false, "title": null}},
    "y": {"field": "c", "type": "quantitative", "axis": {"orient": "right", "values": [0,5,10,15], "tickSize": -25, "labels": false, "title": null}}
   }},
  {"mark": {"type": "point", "opacity": 0},
   "encoding": {
    "x": {"field": "x", "type": "quantitative", "axis": {"orient": "top", "values": [0.002,0.004,0.006,0.008,0.012,0.014,0.016,0.018,0.022,0.024,0.026,0.028,0.032,0.034,0.036,0.038,0.042,0.044], "tickSize": -12, "labels": false, "domain": false, "title": null}},
    "y": {"field": "c", "type": "quantitative", "axis": {"orient": "right", "values": [1,2,3,4,6,7,8,9,11,12,13,14], "tickSize": -12, "labels": false, "domain": false, "title": null}}
   }}
 ]
},
{
 "width": 537, "height": 458, "data": {"name": "p6"},
 "resolve": {"axis": {"x": "independent", "y": "independent"}},
 "layer": [
  {"mark": {"type": "line"},
   "encoding": {
    "x": {"field": "x", "type": "quantitative", "scale": {"domain": [-180, 180], "nice": false, "zero": false},
      "axis": {"orient": "bottom", "values": [-180,-120,-60,0,60,120,180], "tickSize": -25, "labelPadding": 35, "labelExpr": "'' + datum.value", "title": "δ", "titleX": 245, "titleY": 79, "titleAlign": "left", "titleBaseline": "alphabetic", "titleAngle": 0}},
    "y": {"field": "c", "type": "quantitative", "scale": {"domain": [0, 15], "nice": false, "zero": false},
      "axis": {"orient": "left", "values": [0,5,10,15], "tickSize": -25, "labels": false, "title": null}},
    "color": {"field": "s", "type": "nominal", "scale": {"domain": ["NH (Huber)","NH (Free + SBL)","IH (Huber)","IH (Free + SBL)"], "range": ["#ff0000","#ff0000","#0000ff","#0000ff"]},
      "legend": {"orient": "none", "legendX": 74.5, "legendY": 40, "title": null, "symbolType": "M-5,0L5,0", "symbolSize": 339, "symbolStrokeWidth": 2.6, "labelFont": "Liberation Serif", "labelFontSize": 36, "labelColor": "#000", "labelOffset": 53.5, "rowPadding": 9.5, "padding": 0, "labelLimit": 500}},
    "strokeDash": {"field": "s", "type": "nominal", "scale": {"domain": ["NH (Huber)","NH (Free + SBL)","IH (Huber)","IH (Free + SBL)"], "range": [[11,7],[1,0],[11,7],[1,0]]},
      "legend": {"orient": "none", "legendX": 74.5, "legendY": 40, "title": null, "symbolType": "M-5,0L5,0", "symbolSize": 339, "symbolStrokeWidth": 2.6, "labelFont": "Liberation Serif", "labelFontSize": 36, "labelColor": "#000", "labelOffset": 53.5, "rowPadding": 9.5, "padding": 0, "labelLimit": 500}}
   }},
  {"mark": {"type": "point", "opacity": 0},
   "encoding": {
    "x": {"field": "x", "type": "quantitative", "axis": {"orient": "bottom", "values": [-165,-150,-135,-105,-90,-75,-45,-30,-15,15,30,45,75,90,105,135,150,165], "tickSize": -12, "labels": false, "domain": false, "title": "CP", "titleX": 270, "titleY": 91, "titleAlign": "left", "titleBaseline": "alphabetic", "titleAngle": 0, "titleFontSize": 22}},
    "y": {"field": "c", "type": "quantitative", "axis": {"orient": "left", "values": [1,2,3,4,6,7,8,9,11,12,13,14], "tickSize": -12, "labels": false, "domain": false, "title": null}}
   }},
  {"mark": {"type": "point", "opacity": 0},
   "encoding": {
    "x": {"field": "x", "type": "quantitative", "axis": {"orient": "top", "values": [-180,-120,-60,0,60,120,180], "tickSize": -25, "labels": false, "title": null}},
    "y": {"field": "c", "type": "quantitative", "axis": {"orient": "right", "values": [0,5,10,15], "tickSize": -25, "labels": false, "title": null}}
   }},
  {"mark": {"type": "point", "opacity": 0},
   "encoding": {
    "x": {"field": "x", "type": "quantitative", "axis": {"orient": "top", "values": [-165,-150,-135,-105,-90,-75,-45,-30,-15,15,30,45,75,90,105,135,150,165], "tickSize": -12, "labels": false, "domain": false, "title": null}},
    "y": {"field": "c", "type": "quantitative", "axis": {"orient": "right", "values": [1,2,3,4,6,7,8,9,11,12,13,14], "tickSize": -12, "labels": false, "domain": false, "title": null}}
   }},
  {"mark": {"type": "text", "text": "Preliminary", "font": "Liberation Serif", "fontSize": 380, "angle": 30.5, "align": "left", "baseline": "alphabetic", "color": "#B58D5E", "opacity": 0.8},
   "encoding": {"x": {"datum": -1189.1, "type": "quantitative", "axis": null}, "y": {"datum": 37.21, "type": "quantitative", "axis": null}}}
 ]
}
]
}
